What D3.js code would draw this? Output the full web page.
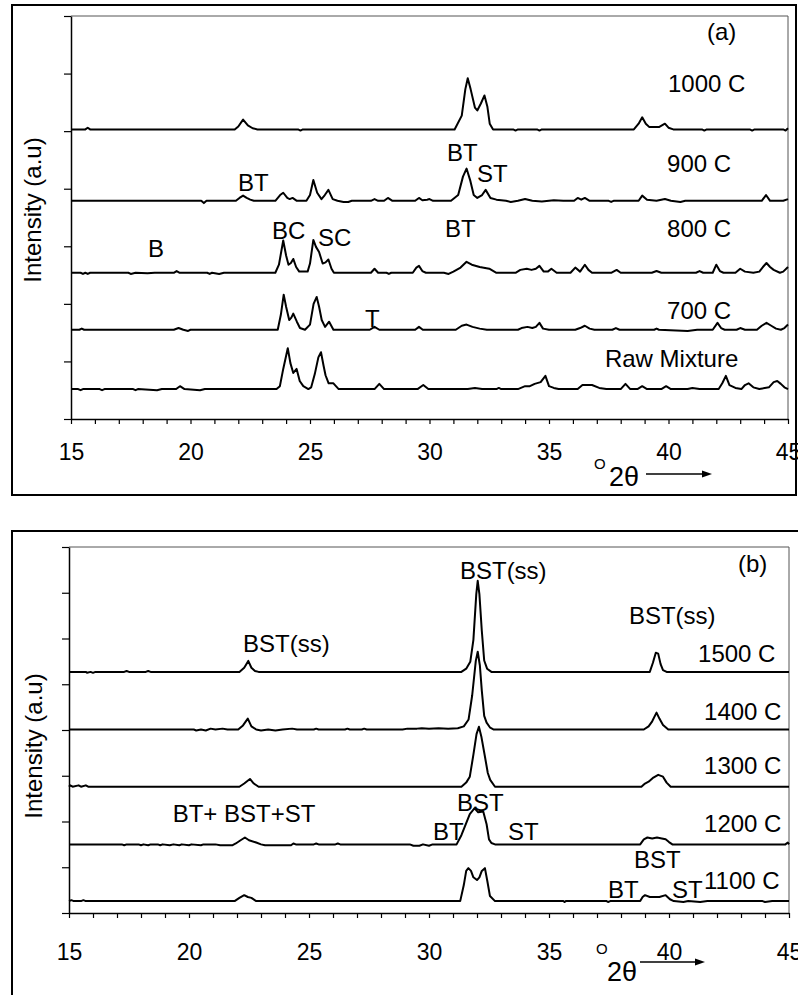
<!DOCTYPE html>
<html><head><meta charset="utf-8">
<script src="https://cdn.jsdelivr.net/npm/d3@7"></script>
<style>
body{margin:0;background:#fff}
svg{display:block}
text{font-family:"Liberation Sans",Arial,sans-serif;fill:#000}
</style>
</head><body>
<svg id="chart" width="798" height="995"></svg>
<script>
// ---------- DATA ----------
const thetaTicks = [15, 20, 25, 30, 35, 40, 45];

// Panel (a): series names and vertical offsets (a.u.)
const seriesA_names = ["1000 C", "900 C", "800 C", "700 C", "Raw Mixture"];
const seriesA_offsets = [503, 379, 254, 155, 52];

// [2θ, relative intensity]
const a1000 = [[15,0],[15.6,0],[15.7,3],[15.8,0],[21.85,0],[22.0,5],[22.2,17],[22.4,7],[22.6,2],[22.8,0],[24.5,0],[24.6,-2],[24.7,0],[31.05,0],[31.35,24],[31.5,70],[31.6,89],[31.72,70],[31.9,38],[32.0,33],[32.15,45],[32.3,59],[32.42,40],[32.52,10],[32.66,0],[33.5,0],[33.6,-2],[33.7,0],[34.5,0],[34.6,-2],[34.7,0],[38.55,0],[38.75,10],[38.9,21],[39.05,10],[39.2,4],[39.6,4],[39.85,10],[40.0,3],[40.2,0],[41.4,0],[41.5,-2],[41.6,0],[43.4,0],[43.5,-2],[43.6,0],[44.8,0],[44.9,-2],[45,2]];
const a900 = [[15,0],[20.45,0],[20.56,-4],[20.67,0],[21.9,0],[22.05,5],[22.2,9],[22.35,5],[22.5,2],[22.65,0],[23.55,0],[23.75,10],[23.88,14],[24.05,5],[24.15,3],[24.27,5],[24.45,0],[24.85,0],[25.0,10],[25.14,36],[25.3,14],[25.48,3],[25.62,10],[25.77,19],[25.95,3],[26.15,0],[26.4,-2],[26.6,-2],[26.75,0],[27.55,0],[27.7,3],[27.85,0],[28.1,0],[28.26,5],[28.45,0],[29.4,0],[29.56,5],[29.7,1],[29.9,2],[30.0,3],[30.15,0],[30.9,0],[31.2,10],[31.4,42],[31.55,56],[31.7,36],[31.85,10],[32.0,5],[32.2,10],[32.35,19],[32.55,5],[32.8,2],[33.2,0],[33.4,-2],[33.7,0],[34.0,3],[34.3,0],[34.7,-1],[35.2,1],[35.6,0],[36.05,0],[36.2,5],[36.35,2],[36.5,5],[36.7,0],[37.5,0],[37.6,-2],[37.7,0],[38.75,0],[38.9,9],[39.1,2],[39.5,0],[39.85,3],[40.1,0],[40.5,-2],[40.7,0],[43.9,0],[44.08,10],[44.25,0],[44.8,0],[45,3]];
const a800 = [[15,0],[15.4,0],[15.5,-2],[15.6,0],[15.7,-2],[15.8,0],[17.4,0],[17.5,-2],[17.7,0],[18.2,-1],[18.5,0],[19.3,0],[19.42,3],[19.55,0],[20.7,0],[20.8,-2],[20.9,0],[21.2,-2],[21.4,0],[23.55,0],[23.7,14],[23.88,56],[24.0,30],[24.1,14],[24.2,17],[24.3,24],[24.42,10],[24.55,2],[24.9,2],[25.0,16],[25.14,57],[25.25,45],[25.38,36],[25.53,16],[25.65,18],[25.77,23],[25.9,7],[26.0,0],[27.55,0],[27.7,7],[27.85,0],[28.2,0],[28.3,-2],[28.4,0],[29.3,0],[29.45,9],[29.56,12],[29.7,3],[29.85,0],[30.6,0],[30.8,-2],[31.0,2],[31.3,9],[31.55,19],[31.77,14],[32.1,10],[32.5,7],[32.8,0],[33.6,0],[33.8,5],[34.07,7],[34.27,5],[34.45,7],[34.6,12],[34.78,2],[34.95,2],[35.1,7],[35.32,0],[35.9,0],[36.1,9],[36.3,2],[36.5,14],[36.65,5],[36.8,0],[37.6,0],[37.83,5],[38.0,0],[39.3,0],[39.5,3],[39.7,0],[41.15,0],[41.3,3],[41.45,0],[41.85,0],[42.0,14],[42.15,3],[42.3,0],[42.8,0],[43.0,7],[43.2,2],[43.55,0],[43.8,2],[43.95,10],[44.1,17],[44.25,10],[44.4,5],[44.66,0],[44.8,2],[45,10]];
const a700 = [[15,0],[15.35,0],[15.45,2],[15.55,0],[19.3,0],[19.5,3],[19.7,0],[19.9,-2],[20.0,0],[23.65,0],[23.78,26],[23.9,61],[24.0,40],[24.13,17],[24.22,21],[24.3,28],[24.45,14],[24.58,3],[24.79,0],[25.0,9],[25.15,45],[25.28,57],[25.38,40],[25.49,17],[25.63,5],[25.8,14],[25.98,0],[27.5,0],[27.7,5],[27.9,0],[29.4,0],[29.56,5],[29.72,0],[31.1,0],[31.35,7],[31.55,9],[31.8,5],[32.1,2],[32.4,0],[33.7,0],[33.85,3],[34.1,5],[34.3,3],[34.45,5],[34.6,12],[34.75,2],[35.0,0],[36.1,0],[36.3,3],[36.5,7],[36.7,2],[36.9,0],[37.65,0],[37.8,3],[37.95,0],[39.4,0],[39.5,2],[39.6,0],[40.8,-2],[41.2,0],[41.85,0],[42.05,12],[42.2,3],[42.35,0],[42.85,0],[43.0,3],[43.2,0],[43.7,0],[43.9,7],[44.1,12],[44.3,7],[44.5,2],[44.7,0],[44.85,3],[45,9]];
const aRaw = [[15,0],[15.3,0],[15.4,-2],[15.5,0],[16.2,0],[16.3,-2],[16.4,0],[17.6,0],[17.7,-2],[17.8,0],[18.6,-2],[18.8,0],[19.4,0],[19.56,5],[19.75,0],[20.4,-2],[20.6,0],[21.2,0],[23.6,0],[23.74,5],[23.88,35],[24.07,71],[24.18,45],[24.3,28],[24.44,35],[24.57,14],[24.72,5],[24.93,0],[25.05,3],[25.2,26],[25.35,55],[25.46,64],[25.57,40],[25.65,24],[25.78,10],[25.98,10],[26.2,0],[27.7,0],[27.9,9],[28.1,0],[29.5,0],[29.74,7],[29.95,0],[31.6,0],[31.9,2],[32.2,0],[32.8,0],[32.9,2],[33.0,0],[33.7,0],[34.0,5],[34.2,5],[34.4,9],[34.65,12],[34.85,23],[35.0,5],[35.2,2],[35.4,0],[36.2,0],[36.4,7],[36.8,7],[37.1,2],[37.4,0],[38.0,0],[38.2,9],[38.4,0],[38.7,0],[38.9,5],[39.1,0],[39.7,0],[39.9,5],[40.1,0],[40.8,0],[41.0,2],[41.3,0],[42.1,0],[42.25,10],[42.4,23],[42.55,7],[42.8,2],[43.05,0],[43.2,7],[43.35,10],[43.55,3],[43.8,0],[44.2,3],[44.4,12],[44.55,14],[44.7,9],[44.85,3],[45,0]];

// Panel (b)
const seriesB_names = ["1500 C", "1400 C", "1300 C", "1200 C", "1100 C"];
const seriesB_offsets = [527, 401, 276, 150, 26];

const b1500 = [[15,0],[15.7,0],[15.75,-2],[15.9,0],[16.0,-2],[16.1,0],[17.3,0],[17.4,2],[17.5,0],[18.2,0],[18.3,2],[18.4,0],[22.1,0],[22.3,9],[22.47,24],[22.6,9],[22.75,2],[22.9,0],[31.35,0],[31.55,7],[31.72,22],[31.85,70],[31.97,170],[32.03,199],[32.1,170],[32.2,90],[32.3,25],[32.42,7],[32.6,0],[39.2,0],[39.33,20],[39.45,42],[39.55,40],[39.65,17],[39.75,4],[39.9,0],[45,0]];
const b1400 = [[15,0],[20.2,0],[20.3,-2],[20.5,0],[20.7,-2],[20.9,2],[21.1,0],[21.4,2],[21.6,0],[22.05,0],[22.25,9],[22.45,24],[22.6,7],[22.8,0],[23.0,-2],[23.3,0],[23.6,-2],[23.9,0],[24.3,2],[24.5,0],[25.2,0],[25.3,2],[25.4,0],[26.5,0],[26.6,2],[26.7,0],[27.2,0],[27.3,2],[27.4,0],[28.9,0],[29.1,2],[29.5,2],[29.7,3],[30.0,2],[30.4,3],[30.8,2],[31.2,3],[31.45,7],[31.65,22],[31.8,75],[31.95,150],[32.03,170],[32.12,140],[32.2,85],[32.3,30],[32.4,15],[32.55,4],[32.7,0],[38.95,0],[39.15,7],[39.3,18],[39.48,37],[39.6,24],[39.75,10],[39.97,0],[45,0]];
const b1300 = [[15,0],[15.05,3],[15.15,0],[15.4,3],[15.5,0],[15.7,3],[15.8,0],[22.1,0],[22.3,7],[22.54,17],[22.7,7],[22.9,0],[31.35,0],[31.55,9],[31.7,22],[31.85,70],[31.98,115],[32.08,131],[32.18,110],[32.33,66],[32.45,30],[32.55,15],[32.75,0],[38.85,0],[39.0,7],[39.15,11],[39.35,20],[39.55,26],[39.75,22],[39.9,9],[40.07,0],[45,0]];
const b1200 = [[15,0],[17.2,0],[17.3,-2],[17.4,0],[17.9,0],[18.0,-2],[18.1,0],[18.3,-2],[18.4,0],[18.7,0],[18.8,-2],[18.9,0],[19.2,-2],[19.35,0],[19.6,-2],[19.7,0],[20.0,-2],[20.1,0],[20.5,-2],[20.6,0],[21.1,0],[21.3,-2],[21.8,-2],[21.95,2],[22.15,9],[22.33,15],[22.5,9],[22.8,4],[23.0,0],[23.17,-2],[24.25,-2],[24.35,2],[24.45,0],[25.2,0],[25.3,2],[25.4,0],[26.1,0],[26.2,2],[26.3,0],[29.2,0],[29.35,-3],[29.6,-3],[29.75,0],[30.0,-3],[30.15,0],[31.15,0],[31.35,20],[31.5,40],[31.7,66],[31.9,79],[32.05,70],[32.26,72],[32.4,44],[32.5,11],[32.6,3],[32.75,0],[38.8,0],[38.95,11],[39.1,15],[39.3,13],[39.5,15],[39.7,13],[39.86,11],[40.0,5],[40.14,0],[44.85,0],[44.95,4],[45,0]];
const b1100 = [[15,0],[15.1,2],[15.2,0],[15.5,0],[15.6,2],[15.7,0],[21.9,0],[22.1,7],[22.3,13],[22.45,9],[22.6,7],[22.8,0],[31.3,0],[31.45,35],[31.55,66],[31.64,72],[31.75,66],[31.85,52],[32.0,46],[32.1,52],[32.2,66],[32.33,72],[32.43,44],[32.54,11],[32.75,0],[35.6,0],[35.65,-2],[35.7,0],[37.4,0],[37.46,-2],[37.55,0],[38.8,0],[38.9,9],[39.0,13],[39.2,9],[39.6,9],[39.86,13],[40.04,4],[40.2,0],[40.6,-2],[40.8,0],[41.3,-2],[41.6,0],[43.9,0],[44.0,-2],[44.3,0],[45,0]];

// Annotations: [text, 2θ, intensity] (left/baseline anchored)
const annotationsA = [["(a)",41.61,660],["1000 C",39.98,569],["900 C",39.94,430],["BT",30.73,450],["ST",31.99,413],["BT",30.65,318],["800 C",39.94,318],["BT",21.99,398],["BC",23.41,314],["SC",25.33,302],["B",18.22,283],["T",27.30,161],["700 C",39.94,175],["Raw Mixture",37.34,92]];
const annotationsB = [["(b)",42.875,747],["BST(ss)",31.29,732],["BST(ss)",38.33,634],["1500 C",41.21,551],["1400 C",41.46,424],["BST(ss)",22.25,573],["1300 C",41.46,306],["BST",31.17,225],["BT",30.17,162],["ST",33.29,162],["1200 C",41.46,179],["BT+ BST+ST",19.32,201],["BST",38.54,100],["BT",37.46,35],["ST",40.125,35],["1100 C",41.46,55]];

const seriesA = [a1000, a900, a800, a700, aRaw];
const seriesB = [b1500, b1400, b1300, b1200, b1100];

// ---------- DRAW ----------
const svg = d3.select("#chart");
svg.append("rect").attr("width",798).attr("height",995).attr("fill","#fff");

function panel(cfg) {
  const g = svg.append("g");
  const x = d3.scaleLinear().domain([15,45]).range([cfg.left, cfg.right]);
  const y = d3.scaleLinear().domain([0, cfg.ymax]).range([cfg.bottom, cfg.top]);

  g.append("path").attr("d", cfg.frame).attr("fill","none").attr("stroke","#000").attr("stroke-width",2);

  g.append("path")
    .attr("d", `M${cfg.left},${cfg.top}H${cfg.right}V${cfg.bottom}`)
    .attr("fill","none").attr("stroke","#555").attr("stroke-width",1);

  const xa = g.append("g").attr("transform",`translate(0,${cfg.bottom})`)
    .call(d3.axisBottom(x).tickValues(d3.range(15,46,1)).tickSizeInner(5).tickSizeOuter(0)
      .tickPadding(cfg.tickPad)
      .tickFormat(d => thetaTicks.includes(d) ? d : ""));
  xa.select(".domain").attr("stroke","#000").attr("stroke-width",1.5);
  xa.selectAll(".tick line").attr("stroke","#000").attr("stroke-width",1.2);
  xa.selectAll(".tick text").attr("font-size",23).attr("font-family","Liberation Sans, Arial, sans-serif").attr("fill","#000");

  const ya = g.append("g").attr("transform",`translate(${cfg.left},0)`)
    .call(d3.axisLeft(y).tickValues(d3.range(0, cfg.ymax+1, 100)).tickSizeInner(7).tickSizeOuter(0).tickFormat(""));
  ya.select(".domain").attr("stroke","#000").attr("stroke-width",1.5);
  ya.selectAll(".tick line").attr("stroke","#000").attr("stroke-width",1.2);

  const line = d3.line().x(d => x(d[0])).y(d => y(d[1]));
  cfg.series.forEach((s, i) => {
    const off = cfg.offsets[i];
    g.append("path")
      .datum(s.map(p => [p[0], p[1] + off]))
      .attr("d", line)
      .attr("fill","none").attr("stroke","#000").attr("stroke-width",2).attr("stroke-linejoin","round");
  });

  cfg.annotations.forEach(a => {
    g.append("text").attr("x", x(a[1])).attr("y", y(a[2]) + 1)
      .attr("font-size", 24).text(a[0]);
  });

  g.append("text")
    .attr("transform", `translate(${cfg.ylabX},${cfg.ylabY}) rotate(-90)`)
    .attr("text-anchor","middle").attr("font-size",24)
    .text("Intensity (a.u)");

  g.append("text").attr("x", cfg.degX).attr("y", cfg.degY).attr("font-size",15).text("O");
  g.append("text").attr("x", cfg.thX).attr("y", cfg.thY).attr("font-size",27).text("2θ");
  g.append("line").attr("x1", cfg.arX1).attr("x2", cfg.arX2 - 8).attr("y1", cfg.arY).attr("y2", cfg.arY)
    .attr("stroke","#000").attr("stroke-width",1.5);
  g.append("path").attr("d", `M${cfg.arX2},${cfg.arY}l-10,-3.5v7z`).attr("fill","#000");
}

panel({
  left: 71, right: 788, top: 16, bottom: 419, ymax: 700, tickPad: 20,
  frame: "M12,5H796V495H12Z",
  series: seriesA, offsets: seriesA_offsets, annotations: annotationsA,
  ylabX: 41, ylabY: 210,
  degX: 594, degY: 469, thX: 609, thY: 486, arX1: 646, arX2: 712, arY: 474
});

panel({
  left: 69, right: 789, top: 547, bottom: 913, ymax: 800, tickPad: 26,
  frame: "M12,995V531H798",
  series: seriesB, offsets: seriesB_offsets, annotations: annotationsB,
  ylabX: 42, ylabY: 746,
  degX: 596, degY: 954, thX: 607, thY: 981, arX1: 640, arX2: 705, arY: 962
});
</script>
</body></html>
